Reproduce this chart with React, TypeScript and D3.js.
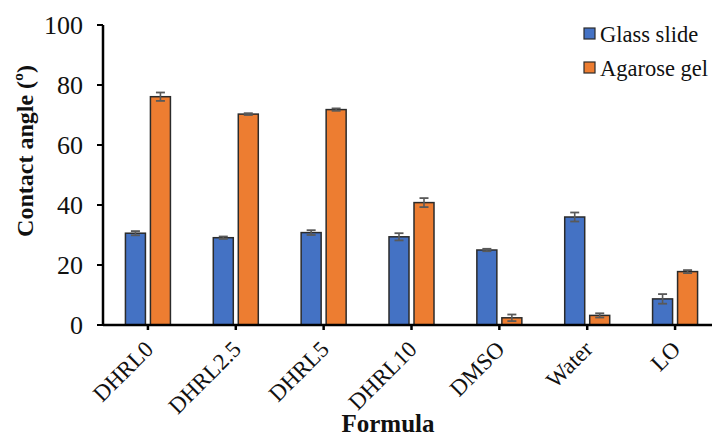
import React from "react";
import * as d3 from "d3";

const categories = ["DHRL0", "DHRL2.5", "DHRL5", "DHRL10", "DMSO", "Water", "LO"];
const seriesNames = ["Glass slide", "Agarose gel"];
const glassValues = [30.6, 29.1, 30.8, 29.4, 25.0, 36.0, 8.7];
const glassErrors = [0.7, 0.4, 0.8, 1.2, 0.4, 1.5, 1.6];
const agaroseValues = [76.1, 70.3, 71.8, 40.8, 2.4, 3.2, 17.8];
const agaroseErrors = [1.4, 0.3, 0.4, 1.5, 1.1, 0.7, 0.5];
const yTicks = [0, 20, 40, 60, 80, 100];
const colors = ["#4472C4", "#ED7D31"];

const W = 712;
const H = 439;
const left = 103;
const right = 719;
const top = 25;
const bottom = 325;
const FONT = "'Liberation Serif', 'Times New Roman', serif";

export default function App() {
  const x = d3.scaleBand<string>().domain(categories).range([left + 1, right]).paddingInner(0).paddingOuter(0);
  const y = d3.scaleLinear().domain([0, 100]).range([bottom, top]);
  const barW = 20;
  const gap = 5;
  const series = [
    { vals: glassValues, errs: glassErrors, color: colors[0], off: -(gap / 2 + barW) },
    { vals: agaroseValues, errs: agaroseErrors, color: colors[1], off: gap / 2 },
  ];
  return (
    <svg width={W} height={H} style={{ position: "absolute", left: 0, top: 0, background: "#fff" }} fontFamily={FONT}>
      {series.map((s, si) =>
        categories.map((c, i) => {
          const cx = (x(c) as number) + x.bandwidth() / 2;
          const bx = cx + s.off;
          const yt = y(s.vals[i]);
          const yh = y(s.vals[i] + s.errs[i]);
          const yl = y(s.vals[i] - s.errs[i]);
          return (
            <g key={si + "-" + i}>
              <rect x={bx} y={yt} width={barW} height={bottom - yt} fill={s.color} stroke="#2b2b2b" strokeWidth={1.5} />
              <line x1={bx + barW / 2} x2={bx + barW / 2} y1={yh} y2={yl} stroke="#595959" strokeWidth={1.6} />
              <line x1={bx + barW / 2 - 4.5} x2={bx + barW / 2 + 4.5} y1={yh} y2={yh} stroke="#595959" strokeWidth={1.8} />
              <line x1={bx + barW / 2 - 4.5} x2={bx + barW / 2 + 4.5} y1={yl} y2={yl} stroke="#595959" strokeWidth={1.8} />
            </g>
          );
        })
      )}
      {/* y axis */}
      <line x1={left} x2={left} y1={top} y2={bottom} stroke="#000" strokeWidth={2.5} />
      {yTicks.map((t) => (
        <g key={t}>
          <line x1={left - 6} x2={left} y1={y(t)} y2={y(t)} stroke="#000" strokeWidth={2} />
          <text x={83} y={y(t)} dy="0.35em" textAnchor="end" fontSize={26} fill="#111">
            {t}
          </text>
        </g>
      ))}
      {/* x axis */}
      <line x1={left} x2={right} y1={bottom} y2={bottom} stroke="#000" strokeWidth={2.5} />
      {categories.map((c) => {
        const cx = (x(c) as number) + x.bandwidth() / 2;
        return (
          <g key={c}>
            <line x1={cx} x2={cx} y1={bottom} y2={bottom + 5} stroke="#000" strokeWidth={2.5} />
            <text
              transform={`translate(${cx + 1},${bottom + 20}) rotate(-45)`}
              textAnchor="end"
              dy="0.35em"
              fontSize={23}
              fill="#111"
            >
              {c}
            </text>
          </g>
        );
      })}
      <text x={388} y={432} textAnchor="middle" fontSize={25} fontWeight="bold" fill="#111">
        Formula
      </text>
      <text transform={`translate(33,151) rotate(-90)`} textAnchor="middle" fontSize={24} fontWeight="bold" fill="#111">
        Contact angle (º)
      </text>
      {/* legend */}
      {seriesNames.map((n, i) => (
        <g key={n} transform={`translate(584,${28 + i * 34})`}>
          <rect x={0} y={0} width={11} height={11} fill={colors[i]} stroke="#2b2b2b" strokeWidth={1.2} />
          <text x={16} y={6} dy="0.35em" fontSize={22.5} fill="#111">
            {n}
          </text>
        </g>
      ))}
    </svg>
  );
}
